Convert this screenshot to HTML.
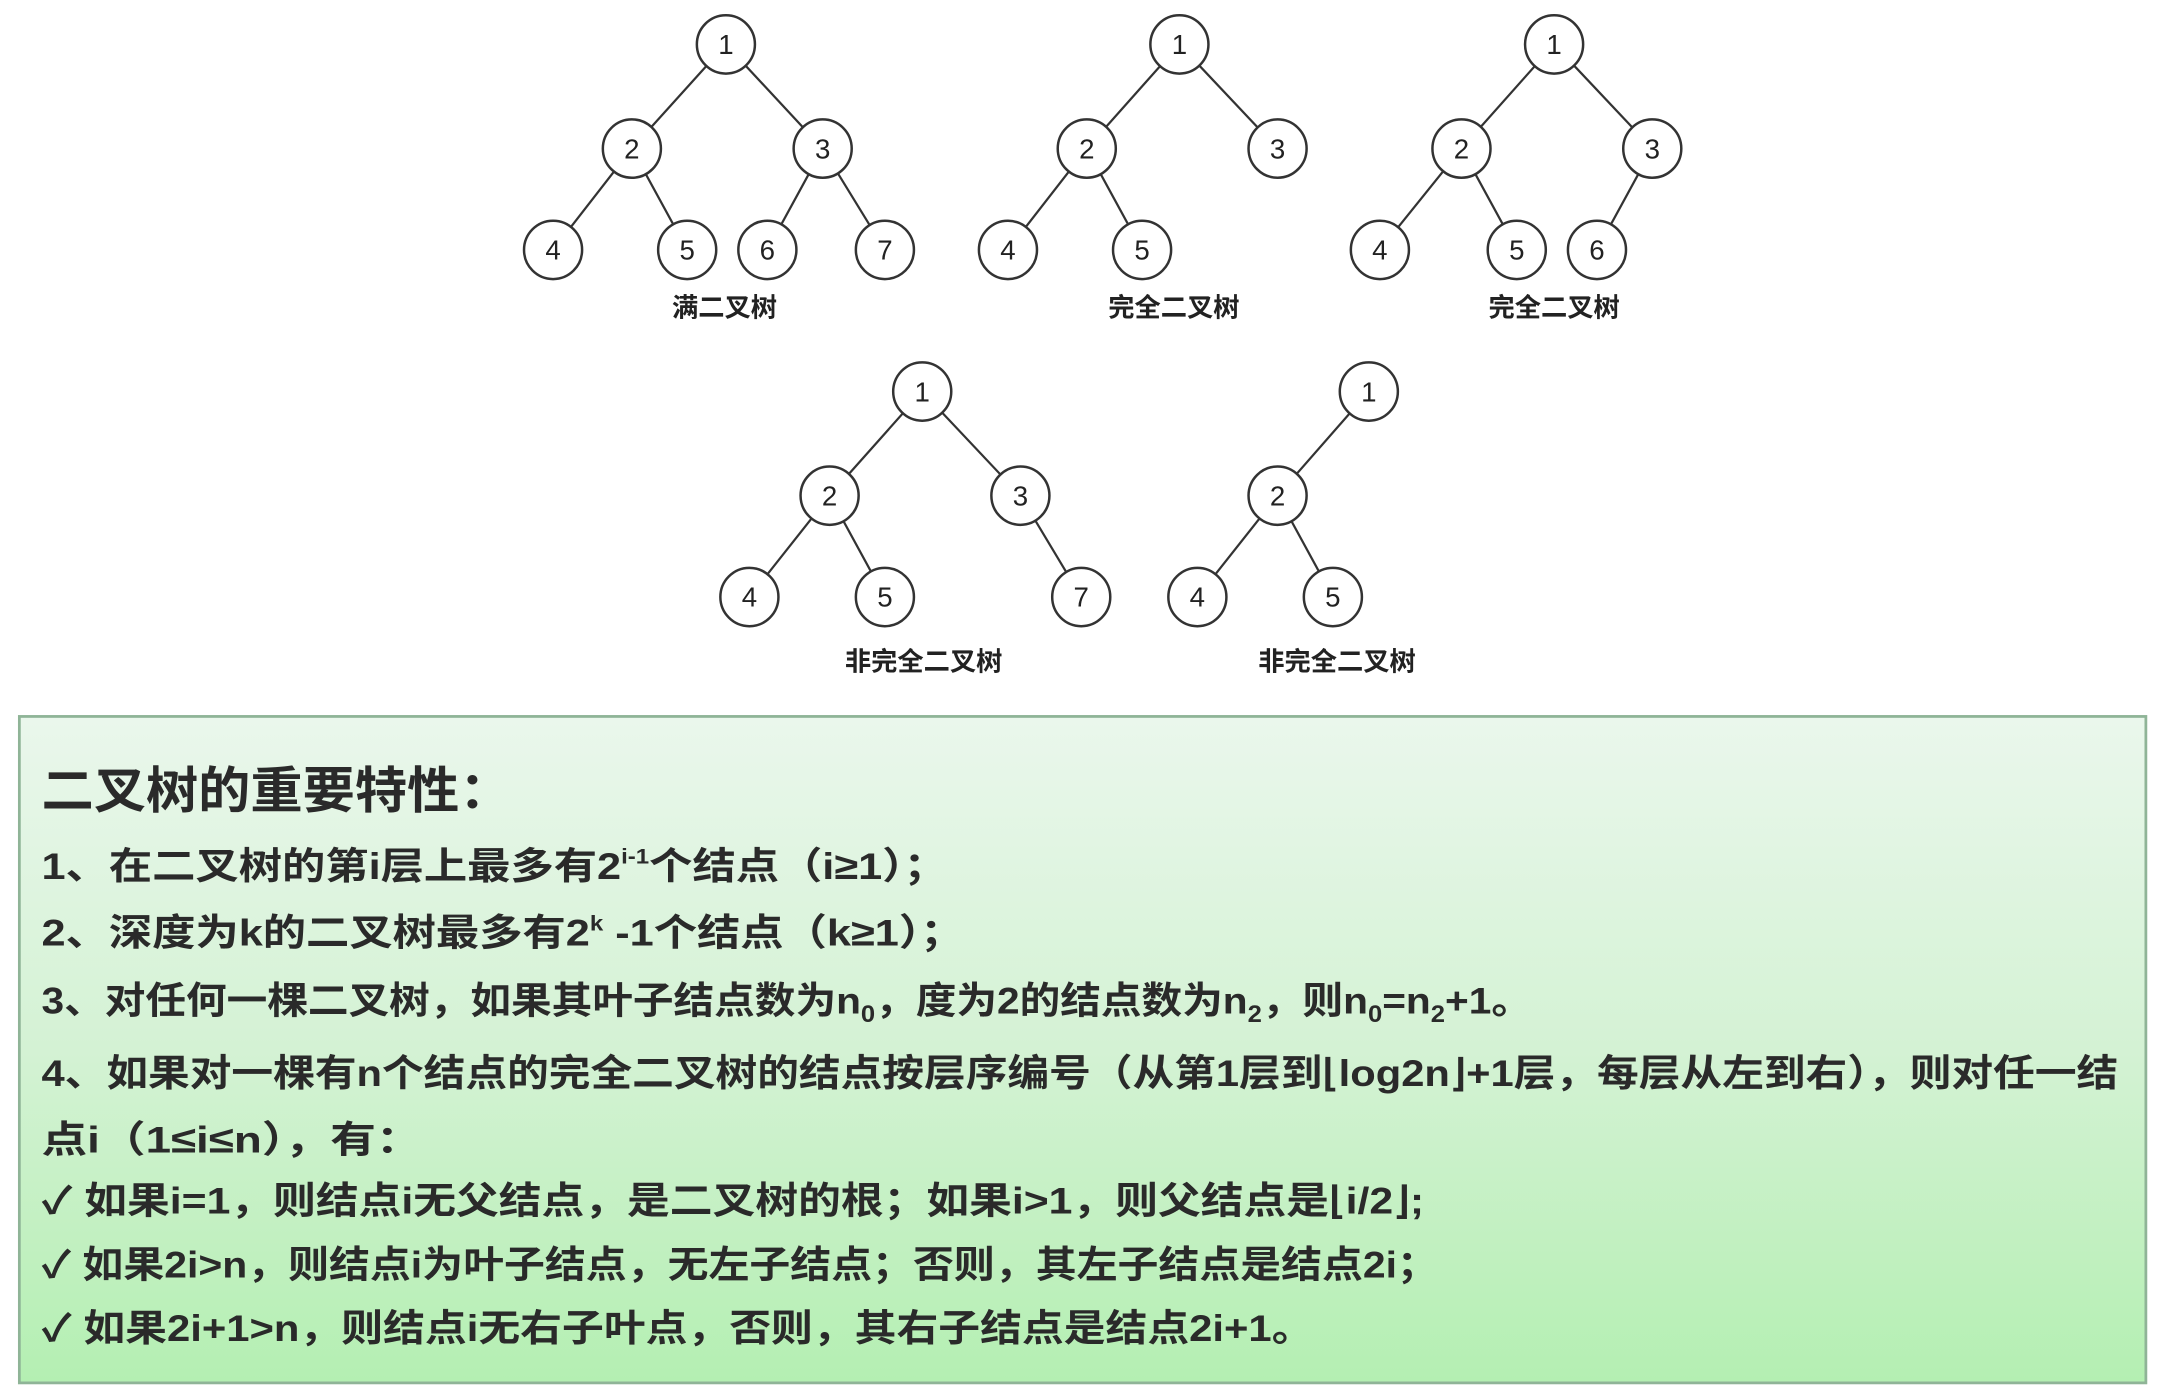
<!DOCTYPE html>
<html><head><meta charset="utf-8"><style>
html,body{margin:0;padding:0;background:#fff;}
svg{display:block;}
text{font-family:"Liberation Sans","Noto Sans CJK SC","WenQuanYi Zen Hei",sans-serif;}
</style></head><body>
<svg width="2168" height="1394" viewBox="0 0 1568 1004" preserveAspectRatio="none" xmlns="http://www.w3.org/2000/svg">
<defs>
<linearGradient id="g" x1="0" y1="0" x2="0" y2="1">
<stop offset="0" stop-color="#eaf7ec"/>
<stop offset="0.5" stop-color="#d4f2d4"/>
<stop offset="1" stop-color="#b4efb2"/>
</linearGradient>
</defs>
<rect width="1568" height="1004" fill="#fff"/>
<g stroke="#333" stroke-width="1.6" fill="none">
<!-- tree1 -->
<line x1="525" y1="32" x2="457" y2="107"/><line x1="525" y1="32" x2="595" y2="107"/>
<line x1="457" y1="107" x2="400" y2="180"/><line x1="457" y1="107" x2="497" y2="180"/>
<line x1="595" y1="107" x2="555" y2="180"/><line x1="595" y1="107" x2="640" y2="180"/>
<!-- tree2 -->
<line x1="853" y1="32" x2="786" y2="107"/><line x1="853" y1="32" x2="924" y2="107"/>
<line x1="786" y1="107" x2="729" y2="180"/><line x1="786" y1="107" x2="826" y2="180"/>
<!-- tree3 -->
<line x1="1124" y1="32" x2="1057" y2="107"/><line x1="1124" y1="32" x2="1195" y2="107"/>
<line x1="1057" y1="107" x2="998" y2="180"/><line x1="1057" y1="107" x2="1097" y2="180"/>
<line x1="1195" y1="107" x2="1155" y2="180"/>
<!-- tree4 -->
<line x1="667" y1="282" x2="600" y2="357"/><line x1="667" y1="282" x2="738" y2="357"/>
<line x1="600" y1="357" x2="542" y2="430"/><line x1="600" y1="357" x2="640" y2="430"/>
<line x1="738" y1="357" x2="782" y2="430"/>
<!-- tree5 -->
<line x1="990" y1="282" x2="924" y2="357"/>
<line x1="924" y1="357" x2="866" y2="430"/><line x1="924" y1="357" x2="964" y2="430"/>
</g>
<g stroke="#333" stroke-width="1.8" fill="#fff">
<circle cx="525" cy="32" r="21"/><circle cx="457" cy="107" r="21"/><circle cx="595" cy="107" r="21"/>
<circle cx="400" cy="180" r="21"/><circle cx="497" cy="180" r="21"/><circle cx="555" cy="180" r="21"/><circle cx="640" cy="180" r="21"/>
<circle cx="853" cy="32" r="21"/><circle cx="786" cy="107" r="21"/><circle cx="924" cy="107" r="21"/>
<circle cx="729" cy="180" r="21"/><circle cx="826" cy="180" r="21"/>
<circle cx="1124" cy="32" r="21"/><circle cx="1057" cy="107" r="21"/><circle cx="1195" cy="107" r="21"/>
<circle cx="998" cy="180" r="21"/><circle cx="1097" cy="180" r="21"/><circle cx="1155" cy="180" r="21"/>
<circle cx="667" cy="282" r="21"/><circle cx="600" cy="357" r="21"/><circle cx="738" cy="357" r="21"/>
<circle cx="542" cy="430" r="21"/><circle cx="640" cy="430" r="21"/><circle cx="782" cy="430" r="21"/>
<circle cx="990" cy="282" r="21"/><circle cx="924" cy="357" r="21"/><circle cx="866" cy="430" r="21"/><circle cx="964" cy="430" r="21"/>
</g>
<g font-size="20" fill="#222" text-anchor="middle">
<text x="525" y="39">1</text><text x="457" y="114">2</text><text x="595" y="114">3</text>
<text x="400" y="187">4</text><text x="497" y="187">5</text><text x="555" y="187">6</text><text x="640" y="187">7</text>
<text x="853" y="39">1</text><text x="786" y="114">2</text><text x="924" y="114">3</text>
<text x="729" y="187">4</text><text x="826" y="187">5</text>
<text x="1124" y="39">1</text><text x="1057" y="114">2</text><text x="1195" y="114">3</text>
<text x="998" y="187">4</text><text x="1097" y="187">5</text><text x="1155" y="187">6</text>
<text x="667" y="289">1</text><text x="600" y="364">2</text><text x="738" y="364">3</text>
<text x="542" y="437">4</text><text x="640" y="437">5</text><text x="782" y="437">7</text>
<text x="990" y="289">1</text><text x="924" y="364">2</text><text x="866" y="437">4</text><text x="964" y="437">5</text>
</g>
<g font-size="19" font-weight="bold" fill="#222" text-anchor="middle">
<text x="524" y="228">满二叉树</text>
<text x="849" y="228">完全二叉树</text>
<text x="1124" y="228">完全二叉树</text>
<text x="668" y="483">非完全二叉树</text>
<text x="967" y="483">非完全二叉树</text>
</g>
<rect x="14" y="516" width="1538" height="480" fill="url(#g)" stroke="#8fb497" stroke-width="2"/>
<g fill="#2a2a2a" font-weight="bold">
<text x="30" y="582" font-size="36" textLength="340" lengthAdjust="spacingAndGlyphs">二叉树的重要特性：</text>
<text x="30" y="633" font-size="27" textLength="655" lengthAdjust="spacingAndGlyphs">1、在二叉树的第i层上最多有2<tspan font-size="15" dy="-11">i-1</tspan><tspan dy="11">个结点（i≥1）；</tspan></text>
<text x="30" y="681" font-size="27" textLength="667" lengthAdjust="spacingAndGlyphs">2、深度为k的二叉树最多有2<tspan font-size="15" dy="-11">k</tspan><tspan dy="11"> -1个结点（k≥1）；</tspan></text>
<text x="30" y="730" font-size="27" textLength="1078" lengthAdjust="spacingAndGlyphs">3、对任何一棵二叉树，如果其叶子结点数为n<tspan font-size="17" dy="6">0</tspan><tspan dy="-6">，度为2的结点数为n</tspan><tspan font-size="17" dy="6">2</tspan><tspan dy="-6">，则n</tspan><tspan font-size="17" dy="6">0</tspan><tspan dy="-6">=n</tspan><tspan font-size="17" dy="6">2</tspan><tspan dy="-6">+1。</tspan></text>
<text x="30" y="782" font-size="27" textLength="1502" lengthAdjust="spacingAndGlyphs">4、如果对一棵有n个结点的完全二叉树的结点按层序编号（从第1层到⌊log2n⌋+1层，每层从左到右），则对任一结</text>
<text x="30" y="830" font-size="27" textLength="275" lengthAdjust="spacingAndGlyphs">点i（1≤i≤n），有：</text>
<text x="30" y="874" font-size="27" textLength="1000" lengthAdjust="spacingAndGlyphs">✓ 如果i=1，则结点i无父结点，是二叉树的根；如果i&gt;1，则父结点是⌊i/2⌋;</text>
<text x="30" y="920" font-size="27" textLength="1010" lengthAdjust="spacingAndGlyphs">✓ 如果2i&gt;n，则结点i为叶子结点，无左子结点；否则，其左子结点是结点2i；</text>
<text x="30" y="966" font-size="27" textLength="920" lengthAdjust="spacingAndGlyphs">✓ 如果2i+1&gt;n，则结点i无右子叶点，否则，其右子结点是结点2i+1。</text>
</g>
</svg>
</body></html>
